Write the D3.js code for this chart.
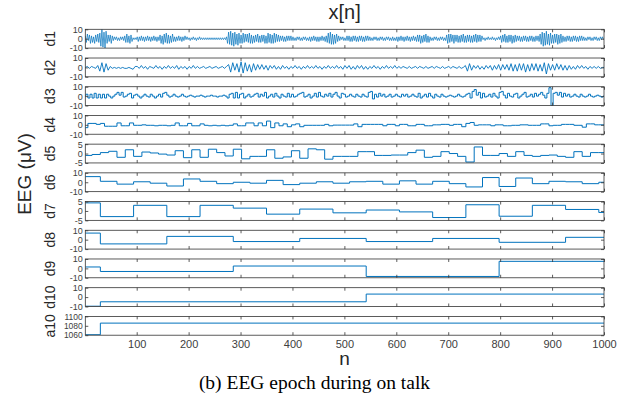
<!DOCTYPE html>
<html>
<head>
<meta charset="utf-8">
<script src="https://cdn.jsdelivr.net/npm/d3@7"></script>
<style>
  body { margin: 0; background: #fff; }
  svg { display: block; }
  text { font-family: "Liberation Sans", Arial, Helvetica, sans-serif; }
</style>
</head>
<body>
<div id="chart"></div>
<script>
// Wavelet decomposition of one EEG epoch

const panelNames = ["d1", "d2", "d3", "d4", "d5", "d6", "d7", "d8", "d9", "d10", "a10"];
const xTicks = [100, 200, 300, 400, 500, 600, 700, 800, 900, 1000];
const yTicks10 = [-10, 0, 10];
const yTicks5 = [-5, 0, 5];
const yTicksA10 = [1060, 1080, 1100];

// d1: every second sample (n = 1, 3, 5, ...)
const d1Data = [
  3,-4,5,-2,4,-5,3,-4,2,-5,4,-3,5,-4,6,-8,10,-9,7,-10,
  8,-5,4,-3,4,-5,3,-2,2,-1,2,-2,1,-2,2,-1,2,-2,3,-4,
  5,-4,3,-5,4,-3,1,-1,1,-1,2,-3,2,-2,3,-2,2,-3,2,-2,
  3,-2,2,-3,2,-2,3,-2,2,-3,2,-2,4,-5,3,-6,5,-4,6,-5,
  4,-5,3,-4,5,-3,2,-3,2,-2,3,-2,2,-3,2,-2,3,-1,2,-1,
  1,-2,1,-1,2,-1,1,-2,1,-1,2,-1,1,-1,1,-1,1,-1,1,-1,
  1,-1,1,-1,1,-1,1,-1,1,-1,1,-1,1,-1,1,-1,2,-5,7,-6,
  8,-7,6,-8,7,-6,5,-7,6,-5,4,-5,6,-4,5,-3,5,-4,6,-5,
  4,-5,3,-4,4,-3,5,-4,3,-4,4,-3,4,-5,3,-5,6,-4,5,-5,
  4,-5,6,-4,5,-3,4,-3,3,-2,3,-3,2,-3,3,-2,3,-2,3,-2,
  2,-2,1,-2,2,-1,2,-2,1,-2,2,-1,2,-2,1,-2,2,-3,2,-2,
  3,-2,2,-3,2,-3,2,-2,3,-2,2,-3,3,-4,6,-5,7,-6,5,-6,
  4,-5,5,-3,3,-2,2,-1,2,-2,1,-2,3,-2,3,-3,2,-3,3,-2,
  3,-3,2,-3,3,-2,3,-3,2,-3,3,-2,3,-2,2,-2,1,-2,2,-1,
  2,-2,1,-2,2,-1,2,-2,1,-2,2,-1,2,-2,1,-2,2,-2,1,-2,
  2,-3,2,-2,3,-2,2,-3,2,-2,3,-2,2,-3,2,-2,3,-2,2,-3,
  4,-3,4,-5,3,-4,4,-3,5,-4,3,-4,2,-2,1,-2,2,-1,2,-2,
  1,-2,2,-1,2,-2,1,-2,4,-5,5,-4,5,-3,4,-5,4,-3,4,-4,
  3,-4,4,-3,5,-4,3,-4,4,-3,4,-4,3,-4,4,-3,5,-4,4,-3,
  4,-3,3,-1,1,-2,1,-1,2,-1,1,-1,2,-1,1,-2,1,-1,2,-1,
  3,-4,4,-3,5,-4,3,-4,4,-3,4,-5,3,-4,4,-3,3,-2,3,-3,
  2,-3,3,-2,3,-3,2,-3,3,-2,3,-3,2,-3,3,-2,3,-3,5,-6,
  7,-8,6,-7,8,-6,5,-7,6,-5,4,-5,5,-4,5,-6,4,-5,5,-4,
  3,-3,2,-3,3,-2,3,-3,2,-3,3,-2,3,-3,2,-3,3,-2,3,-2,
  2,-2,1,-2,2,-1,2,-2,1,-2,2,-1,2,-2,1,-2,2,-1,2,-1
];

// d2: every fourth sample (n = 1, 5, 9, ...)
const d2Data = [
  0,1,-1,1,0,-1,2,-4,5,-5,4,-3,1,-1,0,-1,0,-1,0,-1,-1,0,-1,-2,1,
  1,-1,2,-1,1,-2,1,0,-1,2,-1,1,-2,1,-1,2,-1,1,-1,2,-2,1,-1,1,-2,
  1,-1,2,-1,1,-1,0,1,-1,0,1,-1,0,1,-1,0,1,-1,1,3,-5,5,-3,4,-5,
  6,-6,5,-4,3,-5,4,-3,3,-2,3,-2,2,-3,2,-1,2,-2,1,-2,2,-1,1,-2,1,
  -1,2,-1,1,-2,1,-1,2,-1,1,-1,2,-1,1,-2,1,-1,2,-1,1,-1,2,-1,1,-2,
  2,-1,2,-2,1,-2,2,-1,2,-2,1,-2,1,-1,2,-1,1,-2,1,-1,2,-1,1,-1,2,
  -1,1,-1,1,0,-1,1,-1,0,1,-1,1,0,-1,1,-1,0,1,-1,1,0,-1,1,-1,0,
  1,-1,1,0,-1,1,-1,0,2,-4,4,-3,2,-1,2,-2,1,-2,2,-1,2,-3,2,-2,3,
  -3,3,-2,3,-3,4,-4,3,-4,4,-3,4,-5,3,-4,4,-3,4,-4,3,-4,5,-7,4,-3,
  3,-3,4,-2,3,-3,2,-3,2,-2,1,-2,2,-1,2,-1,1,-2,1,-1,1,-1,1,-1,0,
  0
];

// step-wise details: one value per segment (segment length 4, 8, 16 ... samples)
const d3Data = [
  0,2,-2,2,-2,3,-2,2,-2,2,-2,2,0,-2,0,2,4,1,4,-1,0,2,3,-2,1,
  2,0,-2,0,2,0,-1,2,0,-2,0,2,-1,3,4,1,-1,0,2,0,-1,0,2,0,-1,
  0,1,0,-1,0,0,1,0,-1,0,0,1,0,0,-1,0,0,1,0,-2,2,3,-2,4,-2,
  2,3,-2,0,2,-1,0,2,3,-1,2,0,4,-2,0,2,-1,3,0,-2,2,0,-1,3,-1,
  2,-1,0,2,3,4,-1,0,2,-2,0,3,-1,4,0,-1,2,0,3,-1,2,4,0,-2,3,
  2,-1,0,2,0,-1,2,0,-1,2,0,-1,4,5,-3,2,-1,3,0,2,-1,0,2,-1,0,
  2,0,-1,2,0,2,-1,0,2,0,-1,3,-2,0,2,-1,3,0,-2,2,0,-1,2,0,-1,
  0,1,0,-1,0,2,0,-1,0,2,3,-2,5,7,1,4,-2,3,-1,0,2,-1,3,0,-2,
  4,5,1,-2,3,0,-1,2,3,-2,0,2,4,-1,0,2,-1,3,0,2,4,1,-2,3,9,
  -10,3,4,1,4,-1,3,0,2,-1,0,2,0,-1,2,0,-1,0,2,0,-1,0,1,0,-1,
  0
];

const d4Data = [
  -3,1.5,1.5,0.5,1.5,-1.5,-1.5,-1.5,2,-1,-1,2,-0.5,-0.5,0,-0.5,-0.5,-1,-0.5,-0.5,
  -1,-0.5,2,-1,-1,1.5,-1,-1,1,-0.5,-1,-0.5,-1,-0.5,-1,-0.5,1,-1,-1,2,
  2,-1,2,-1,4,-3,2,-1,1,-2,0,1,-2,-0.5,-0.5,-0.5,-0.5,-0.5,0.5,-1,
  -0.3,-0.3,-0.3,-0.3,-0.3,1,-2,0.5,0.5,0.5,0.5,0.5,-1,0.5,0.5,-1,0.5,0.5,-1,-1,
  0.5,0.5,-1,-1,0,0,0.5,0.5,-0.5,0.5,0.5,-2,1.5,2.5,-0.5,0,0,0,-1,0,
  0,-1,-1,-0.5,-0.5,0,0,-0.5,-0.5,-0.5,1,1,-1,-0.5,-0.5,0.5,0.5,0.5,-0.5,-0.5,
  -2.5,1,1,0,0,0
];

const d5Data = [
  -1,-0.5,0.5,1.2,-2,2,-1.5,0.8,0.3,-0.3,-0.8,1.5,-2.2,2,-2,2.3,0.5,-1.3,2.3,-2.8,
  -1.5,-1.5,2,-2.5,-1.8,1.5,-2.5,2.5,2,-3,-1.5,-1.5,-1.5,1,1,-1,-1,-0.8,-0.8,0.5,
  1.8,-2,-1.5,1,0,-1.5,-4.5,3.5,-1,-1,0,-1.5,1,-1,-1.5,-1,-0.8,-1.5,-2,1,
  -1.5,0.5,0.5
];

const d6Data = [6,1,-2,0.5,-1,-4,3.5,1,-1.5,0,-1,2,-2.5,-1,0.5,-1,
                0.5,1,-2,1.5,-2,1,-1.5,-5,5,-4.5,4.5,-1.5,1,0.5,-1.5,0];
const d7Data = [4.3,-3,3,-3,3,1.5,-1.7,1,-1,0.5,-0.5,-3.5,3.3,-2.8,3,0.8,-0.8];
const d8Data = [7,-4.5,3.5,-2,1.3,-2,1.3,-2.8,2.5];
const d9Data = [1.5,-3.3,2.5,-8.6,7.5];
const d10Data = [-9.7,-5,3.2];
const a10Data = [1061,1085.7];

const W = 629, H = 410;
const plotLeft = 85.3, plotRight = 604;
const top0 = 29.3, gap = 28.71, panelH = 18.8;
const blue = "#0072BD", axisColor = "#333", tickText = "#404040";

const x = d3.scaleLinear().domain([1, 1000]).range([plotLeft, plotRight]);
const plainNum = d => String(d);   // keep the ASCII hyphen for negatives

// sampled series -> points
function samplePoints(values, every) {
  return values.map((v, i) => [1 + i * every, v]);
}

// step series: segment borders fall on n = 30 + k*step
function stepPoints(values, step) {
  const b0 = 30 - step * Math.floor(29 / step);
  const pts = values.map((v, i) => [i === 0 ? 1 : b0 + (i - 1) * step, v]);
  pts.push([1000, values[values.length - 1]]);
  return pts;
}

const panels = [
  { pts: samplePoints(d1Data, 2), curve: d3.curveLinear, domain: [-10, 10], ticks: yTicks10, width: 0.7 },
  { pts: samplePoints(d2Data, 4), curve: d3.curveLinear, domain: [-10, 10], ticks: yTicks10, width: 0.9 },
  { pts: stepPoints(d3Data, 4), curve: d3.curveStepAfter, domain: [-10, 10], ticks: yTicks10, width: 1 },
  { pts: stepPoints(d4Data, 8), curve: d3.curveStepAfter, domain: [-10, 10], ticks: yTicks10, width: 1 },
  { pts: stepPoints(d5Data, 16), curve: d3.curveStepAfter, domain: [-5, 5], ticks: yTicks5, width: 1 },
  { pts: stepPoints(d6Data, 32), curve: d3.curveStepAfter, domain: [-10, 10], ticks: yTicks10, width: 1 },
  { pts: stepPoints(d7Data, 64), curve: d3.curveStepAfter, domain: [-5, 5], ticks: yTicks5, width: 1 },
  { pts: stepPoints(d8Data, 128), curve: d3.curveStepAfter, domain: [-10, 10], ticks: yTicks10, width: 1 },
  { pts: stepPoints(d9Data, 256), curve: d3.curveStepAfter, domain: [-10, 10], ticks: yTicks10, width: 1 },
  { pts: stepPoints(d10Data, 512), curve: d3.curveStepAfter, domain: [-10, 10], ticks: yTicks10, width: 1 },
  { pts: stepPoints(a10Data, 1024), curve: d3.curveStepAfter, domain: [1060, 1100], ticks: yTicksA10, width: 1 }
];

const svg = d3.select("#chart").append("svg")
  .attr("width", W)
  .attr("height", H);

svg.append("rect").attr("width", W).attr("height", H).attr("fill", "#fff");

const defs = svg.append("defs");

panels.forEach((p, i) => {
  const top = top0 + i * gap;
  const last = i === panels.length - 1;
  const g = svg.append("g").attr("transform", `translate(0,${top})`);
  const y = d3.scaleLinear().domain(p.domain).range([panelH, 0]);

  defs.append("clipPath").attr("id", "clip" + i)
    .append("rect")
    .attr("x", plotLeft).attr("y", 0)
    .attr("width", plotRight - plotLeft).attr("height", panelH);

  g.append("path")
    .datum(p.pts)
    .attr("clip-path", `url(#clip${i})`)
    .attr("fill", "none")
    .attr("stroke", blue)
    .attr("stroke-width", p.width)
    .attr("d", d3.line().x(d => x(d[0])).y(d => y(d[1])).curve(p.curve));

  // ticks (inward, on all four sides)
  const left = g.append("g").attr("transform", `translate(${plotLeft},0)`)
    .call(d3.axisLeft(y).tickValues(p.ticks).tickSize(-3).tickPadding(2.5).tickFormat(plainNum));
  const right = g.append("g").attr("transform", `translate(${plotRight},0)`)
    .call(d3.axisRight(y).tickValues(p.ticks).tickSize(-3).tickFormat(""));
  const topAx = g.append("g")
    .call(d3.axisTop(x).tickValues(xTicks).tickSize(-3).tickFormat(""));
  const bottom = g.append("g").attr("transform", `translate(0,${panelH})`)
    .call(d3.axisBottom(x).tickValues(xTicks).tickSize(-3).tickPadding(5)
      .tickFormat(last ? plainNum : ""));

  [left, right, topAx, bottom].forEach(a => {
    a.select(".domain").remove();
    a.selectAll("line").attr("stroke", axisColor).attr("stroke-width", 0.8);
  });
  left.selectAll("text")
    .attr("fill", tickText)
    .style("font-size", last ? "8.5px" : "9px");
  bottom.selectAll("text").attr("fill", tickText).style("font-size", "11px");

  g.append("rect")
    .attr("x", plotLeft).attr("y", 0)
    .attr("width", plotRight - plotLeft).attr("height", panelH)
    .attr("fill", "none")
    .attr("stroke", axisColor)
    .attr("stroke-width", 0.8);

  g.append("text")
    .attr("transform", `translate(55,${panelH / 2}) rotate(-90)`)
    .attr("text-anchor", "middle")
    .attr("fill", "#262626")
    .style("font-size", "14px")
    .text(panelNames[i]);
});

// title and axis labels
svg.append("text")
  .attr("x", (plotLeft + plotRight) / 2).attr("y", 19)
  .attr("text-anchor", "middle")
  .attr("fill", "#262626")
  .style("font-size", "20px")
  .text("x[n]");

svg.append("text")
  .attr("x", (plotLeft + plotRight) / 2).attr("y", 365)
  .attr("text-anchor", "middle")
  .attr("fill", "#262626")
  .style("font-size", "19px")
  .text("n");

svg.append("text")
  .attr("transform", "translate(31,174) rotate(-90)")
  .attr("text-anchor", "middle")
  .attr("fill", "#262626")
  .style("font-size", "19px")
  .text("EEG (μV)");

svg.append("text")
  .attr("x", W / 2).attr("y", 389)
  .attr("text-anchor", "middle")
  .attr("fill", "#000")
  .style("font-family", "'Liberation Serif', 'Times New Roman', serif")
  .style("font-size", "19.5px")
  .text("(b) EEG epoch during on talk");
</script>
</body>
</html>
